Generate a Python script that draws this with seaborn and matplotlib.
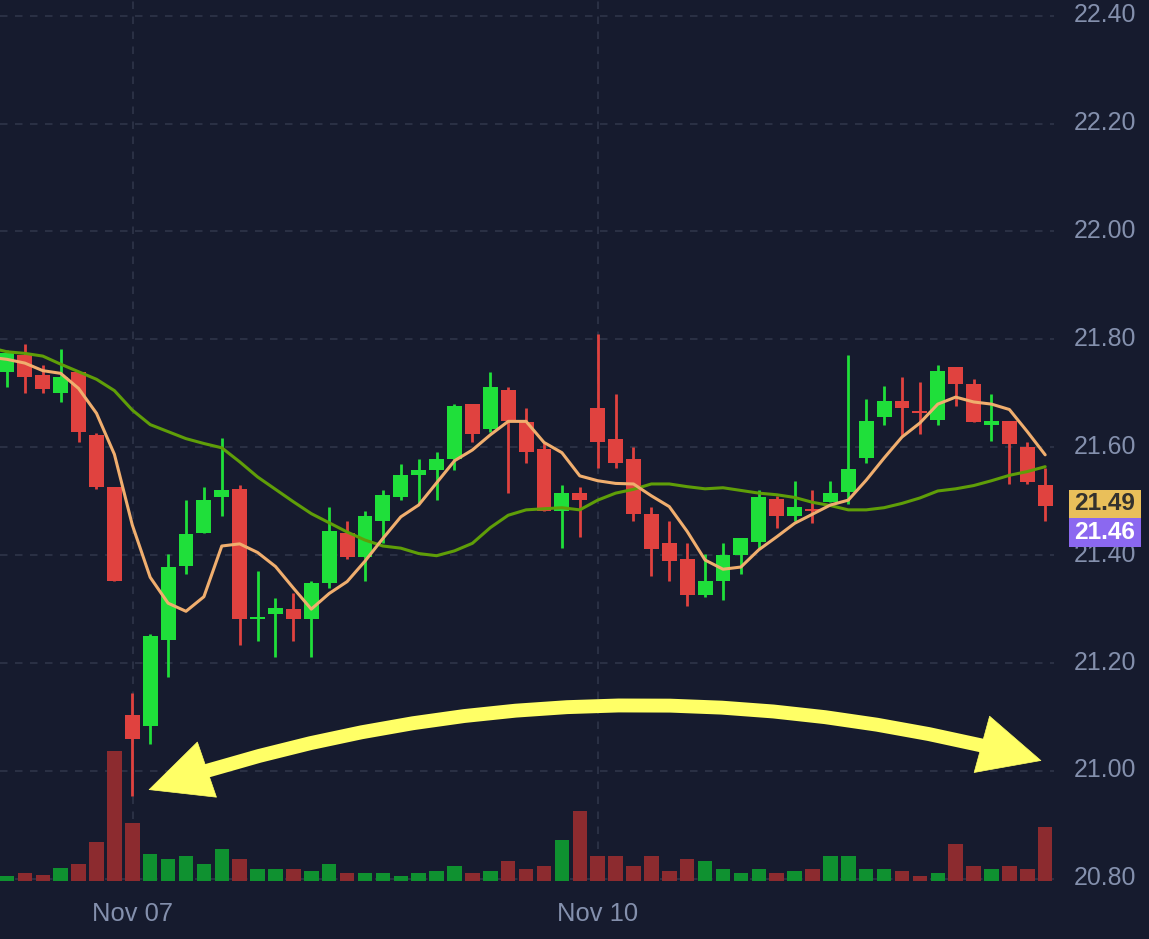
# -*- coding: utf-8 -*-
"""Candlestick chart with volume bars and a yellow double arrow, dark theme."""
import matplotlib
matplotlib.use("Agg")
import matplotlib.pyplot as plt
from matplotlib.patches import FancyArrowPatch, Rectangle
from matplotlib.transforms import ScaledTranslation
import numpy as np
import pandas as pd
import seaborn as sns

# --- Data ---
opens = [21.739, 21.771, 21.734, 21.700, 21.739, 21.623, 21.526, 21.104, 21.083, 21.242,
         21.380, 21.442, 21.508, 21.522, 21.281, 21.291, 21.300, 21.282, 21.349, 21.442,
         21.397, 21.464, 21.508, 21.548, 21.557, 21.579, 21.681, 21.633, 21.707, 21.646,
         21.596, 21.481, 21.516, 21.672, 21.615, 21.579, 21.476, 21.423, 21.393, 21.326,
         21.353, 21.401, 21.424, 21.504, 21.473, 21.485, 21.499, 21.518, 21.580, 21.656,
         21.685, 21.668, 21.651, 21.748, 21.717, 21.641, 21.649, 21.601, 21.530]
closes = [21.774, 21.731, 21.708, 21.730, 21.628, 21.526, 21.353, 21.059, 21.250, 21.379,
          21.440, 21.503, 21.521, 21.282, 21.286, 21.303, 21.281, 21.348, 21.445, 21.397,
          21.473, 21.512, 21.548, 21.557, 21.578, 21.676, 21.624, 21.712, 21.649, 21.592,
          21.481, 21.516, 21.503, 21.610, 21.570, 21.477, 21.411, 21.389, 21.326, 21.352,
          21.400, 21.432, 21.507, 21.473, 21.490, 21.481, 21.516, 21.560, 21.649, 21.685,
          21.673, 21.664, 21.742, 21.717, 21.646, 21.649, 21.606, 21.535, 21.491]
highs = [21.780, 21.792, 21.753, 21.783, 21.739, 21.627, 21.526, 21.145, 21.254, 21.402,
         21.503, 21.526, 21.618, 21.530, 21.370, 21.321, 21.329, 21.352, 21.490, 21.463,
         21.481, 21.521, 21.569, 21.578, 21.592, 21.681, 21.681, 21.739, 21.711, 21.672,
         21.607, 21.530, 21.526, 21.810, 21.699, 21.601, 21.490, 21.463, 21.423, 21.402,
         21.423, 21.432, 21.521, 21.509, 21.538, 21.521, 21.538, 21.771, 21.690, 21.713,
         21.730, 21.721, 21.752, 21.748, 21.726, 21.699, 21.649, 21.610, 21.561]
lows = [21.712, 21.700, 21.700, 21.683, 21.610, 21.522, 21.353, 20.954, 21.050, 21.175,
        21.366, 21.442, 21.473, 21.233, 21.241, 21.211, 21.241, 21.211, 21.340, 21.393,
        21.353, 21.422, 21.503, 21.496, 21.503, 21.558, 21.610, 21.629, 21.516, 21.570,
        21.481, 21.414, 21.433, 21.562, 21.562, 21.464, 21.361, 21.353, 21.305, 21.322,
        21.317, 21.366, 21.411, 21.451, 21.463, 21.459, 21.499, 21.494, 21.570, 21.641,
        21.620, 21.624, 21.641, 21.677, 21.646, 21.611, 21.531, 21.532, 21.464]
volumes = [5, 7.3, 5.3, 12.3, 17, 38.7, 130, 58, 26.3, 22, 24.3, 17, 31.3, 22, 12, 12, 12,
           10, 17, 7.3, 7.3, 7.3, 5, 7.3, 10, 14.7, 7.3, 10, 19.3, 12, 14.7, 41, 70, 24.3,
           24.3, 14.7, 24.3, 10, 22, 19.3, 12, 7.3, 12, 7.3, 10, 12, 24.3, 24.3, 12, 12, 10,
           5, 7.3, 36.3, 14.7, 12, 14.7, 12, 53.3]
# moving averages start one bar left of the first visible candle
ma_fast = [21.767, 21.763, 21.756, 21.742, 21.737, 21.709, 21.663, 21.587, 21.456, 21.359,
           21.311, 21.296, 21.323, 21.417, 21.421, 21.405, 21.379, 21.339, 21.300, 21.329,
           21.351, 21.389, 21.431, 21.471, 21.493, 21.534, 21.575, 21.595, 21.623, 21.648,
           21.648, 21.609, 21.590, 21.547, 21.538, 21.533, 21.532, 21.510, 21.490, 21.444,
           21.391, 21.374, 21.378, 21.410, 21.434, 21.459, 21.476, 21.493, 21.502, 21.539,
           21.580, 21.619, 21.645, 21.680, 21.693, 21.684, 21.680, 21.670, 21.629, 21.586]
ma_slow = [21.785, 21.777, 21.774, 21.769, 21.754, 21.740, 21.726, 21.705, 21.669, 21.642,
           21.629, 21.616, 21.607, 21.599, 21.573, 21.545, 21.522, 21.499, 21.477, 21.460,
           21.443, 21.428, 21.417, 21.413, 21.403, 21.399, 21.408, 21.422, 21.451, 21.474,
           21.484, 21.486, 21.488, 21.484, 21.502, 21.515, 21.522, 21.532, 21.532, 21.527,
           21.523, 21.525, 21.520, 21.515, 21.512, 21.507, 21.498, 21.492, 21.484, 21.484,
           21.488, 21.496, 21.506, 21.519, 21.523, 21.529, 21.538, 21.548, 21.555, 21.564]
price_ticks = [20.80, 21.00, 21.20, 21.40, 21.60, 21.80, 22.00, 22.20, 22.40]
date_ticks = [7, 33]
date_labels = ["Nov 07", "Nov 10"]
tag_labels = ["21.49", "21.46"]

# --- Style ---
W, H = 1149, 939
BG = "#161b2e"
GRID = "#2f3549"
TEXT = "#8490ad"
UP, DOWN = "#1fdf3a", "#e0423f"
VOL_UP, VOL_DOWN = "#0f9130", "#8c2b2f"
ARROW = "#ffff66"

sns.set_theme(style="dark", rc={"figure.facecolor": BG, "axes.facecolor": BG})
plt.rcParams["font.family"] = ["Liberation Sans", "DejaVu Sans"]

fig = plt.figure(figsize=(W / 100, H / 100), dpi=100)
ax = fig.add_axes([0, 0, 1, 1])
# volume sits above the grid; no candle reaches down into it
ax_vol = fig.add_axes([0, 0, 1, 1], zorder=2)

x = np.arange(len(opens))
df = pd.DataFrame({"bar": x, "open": opens, "close": closes, "high": highs,
                   "low": lows, "volume": volumes})
df["up"] = df["close"] >= df["open"]

# --- Volume panel ---
sns.barplot(data=df, x="bar", y="volume", hue="up", palette={True: VOL_UP, False: VOL_DOWN},
            native_scale=True, dodge=False, width=0.81, legend=False, ax=ax_vol, saturation=1,
            linewidth=0, edgecolor="none")
ax_vol.set_ylim(-58.3, 880.7)
ax_vol.axis("off")

# --- Candles ---
colors = df["up"].map({True: UP, False: DOWN})
ax.vlines(df["bar"], df["low"], df["high"], colors=colors, lw=2.0, zorder=3)
ax.bar(df["bar"], (df["close"] - df["open"]).abs(), bottom=df[["open", "close"]].min(axis=1),
       width=0.83, color=colors, linewidth=0, edgecolor="none", zorder=3)

# --- Moving averages ---
ma_x = np.arange(-1, len(opens))
sns.lineplot(x=ma_x, y=ma_slow, color="#5f9e08", lw=2.2, ax=ax, zorder=4)
sns.lineplot(x=ma_x, y=ma_fast, color="#f0ae6e", lw=2.2, ax=ax, zorder=5)

# --- Grid, stops short of the price scale ---
for tick in price_ticks:
    ax.axhline(tick, xmax=1054 / W, color=GRID, lw=1.2, ls=(0, (4.5, 4.5)), zorder=1)
ax.vlines([t + 0.03 for t in date_ticks], 20.8, 22.43, color=GRID, lw=1.2,
          ls=(0, (4.5, 4.5)), zorder=1)

# --- Axis limits map bar index / price onto the picture ---
for a in (ax, ax_vol):
    a.set_xlim(-0.391, 63.8)
ax.set_ylim(20.6886, 22.429)

ax.set_yticks(price_ticks, [f"{t:.2f}" for t in price_ticks])
ax.set_xticks(date_ticks, date_labels)
ax.tick_params(axis="y", length=0, labelleft=False, labelright=True, pad=-54,
               labelsize=17.9, labelcolor=TEXT)
ax.tick_params(axis="x", length=0, pad=-26.5, labelsize=18.4, labelcolor=TEXT)
up_shift = ScaledTranslation(0, 3 / 100, fig.dpi_scale_trans)
for lbl in ax.get_yticklabels():
    lbl.set_transform(lbl.get_transform() + up_shift)
for side in ax.spines.values():
    side.set_visible(False)
ax.set_xlabel("")
ax.set_ylabel("")

# --- Price tags ---
tag_boxes = [(490, 518, "#e9bf5a", "#33312e"), (518, 547, "#8b68f0", "#ffffff")]
for label, (top, bottom, face, ink) in zip(tag_labels, tag_boxes):
    ax.add_patch(Rectangle((1069 / W, 1 - bottom / H), 72 / W, (bottom - top) / H,
                           transform=fig.transFigure, facecolor=face, edgecolor="none",
                           zorder=8, clip_on=False))
    ax.text(1105 / W, 1 - (top + bottom) / 2 / H, label, transform=fig.transFigure, color=ink,
            fontsize=17.6, fontweight="bold", ha="center", va="center", zorder=9)

# --- Yellow double arrow: thick shaft plus solid heads on the same curve ---
arc = "arc3,rad=-0.155"
left_tip, right_tip = (7.9, 20.965), (57.8, 21.019)
ax.add_patch(FancyArrowPatch(left_tip, right_tip, connectionstyle=arc, arrowstyle="-",
                             shrinkA=26, shrinkB=26, lw=10, color=ARROW, capstyle="butt",
                             zorder=7))
ax.add_patch(FancyArrowPatch(left_tip, right_tip, connectionstyle=arc,
                             arrowstyle="<|-|>,head_length=4.4,head_width=2.1",
                             mutation_scale=10, shrinkA=0, shrinkB=0, lw=0.5, color=ARROW,
                             zorder=7))

fig.savefig("out.png", dpi=100, facecolor=BG)
plt.close(fig)
